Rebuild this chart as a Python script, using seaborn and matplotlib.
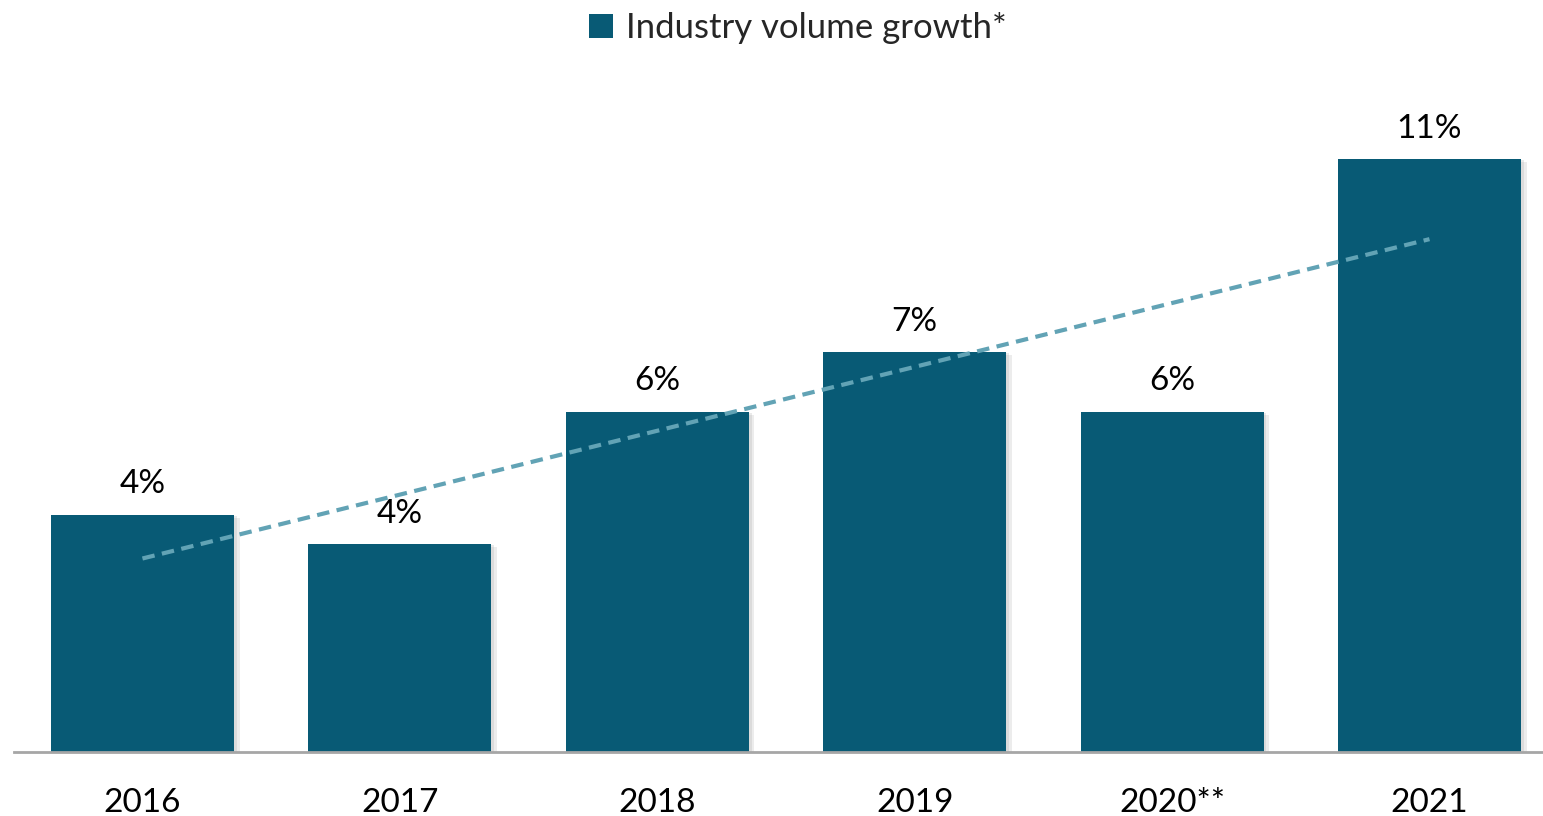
import numpy as np
import pandas as pd
import matplotlib
matplotlib.use("Agg")
import matplotlib.pyplot as plt
import matplotlib.patheffects as pe
from matplotlib.patches import Patch
import seaborn as sns

years = ["2016", "2017", "2018", "2019", "2020**", "2021"]
growth = [4.40, 3.86, 6.31, 7.42, 6.31, 11.0]
labels = ["4%", "4%", "6%", "7%", "6%", "11%"]
series_name = "Industry volume growth*"

bar_color = "#085A75"
trend_color = "#62A3B5"

sns.set_theme(style="white")
plt.rcParams["font.family"] = ["Lato", "DejaVu Sans"]

fig = plt.figure(figsize=(15.43, 8.16), dpi=100)
ax = fig.add_axes([14/1543, 1 - 752/816, 1 - 14/1543, 674/816])

df = pd.DataFrame({"year": years, "growth": growth})
sns.barplot(data=df, x="year", y="growth", color=bar_color, saturation=1,
            width=0.711, ax=ax, edgecolor="none")
for p in ax.patches:
    p.set_path_effects([pe.SimplePatchShadow(offset=(4, -2), shadow_rgbFace="#9a9a9a", alpha=0.18),
                        pe.SimplePatchShadow(offset=(2, -1), shadow_rgbFace="#9a9a9a", alpha=0.2),
                        pe.Normal()])

x = np.arange(len(years))
coef = np.polyfit(x, growth, 1)
ax.plot(x, np.polyval(coef, x), ls=(0, (3, 1.8)), color=trend_color, lw=3, zorder=5)

for i, (v, lab) in enumerate(zip(growth, labels)):
    ax.annotate(lab, (i, v), xytext=(0, 11), textcoords="offset points",
                ha="center", va="bottom", fontsize=24, color="black")

ax.set_xlim(-0.499, 5.441)
ax.set_ylim(0, 12.5)
ax.set_xlabel("")
ax.set_ylabel("")
ax.set_yticks([])
ax.tick_params(axis="x", length=0, pad=26, labelsize=24, colors="black")
for s in ["top", "right", "left"]:
    ax.spines[s].set_visible(False)
ax.spines["bottom"].set_color("#A6A6A6")
ax.spines["bottom"].set_linewidth(2)

handles = [Patch(facecolor=bar_color, edgecolor="none", label=series_name)]
fig.legend(handles=handles, loc="center", bbox_to_anchor=(0.517, 1 - 28/816),
           frameon=False, fontsize=25, handlelength=0.7, handleheight=0.7,
           handletextpad=0.35)

fig.savefig("out.png", dpi=100)
